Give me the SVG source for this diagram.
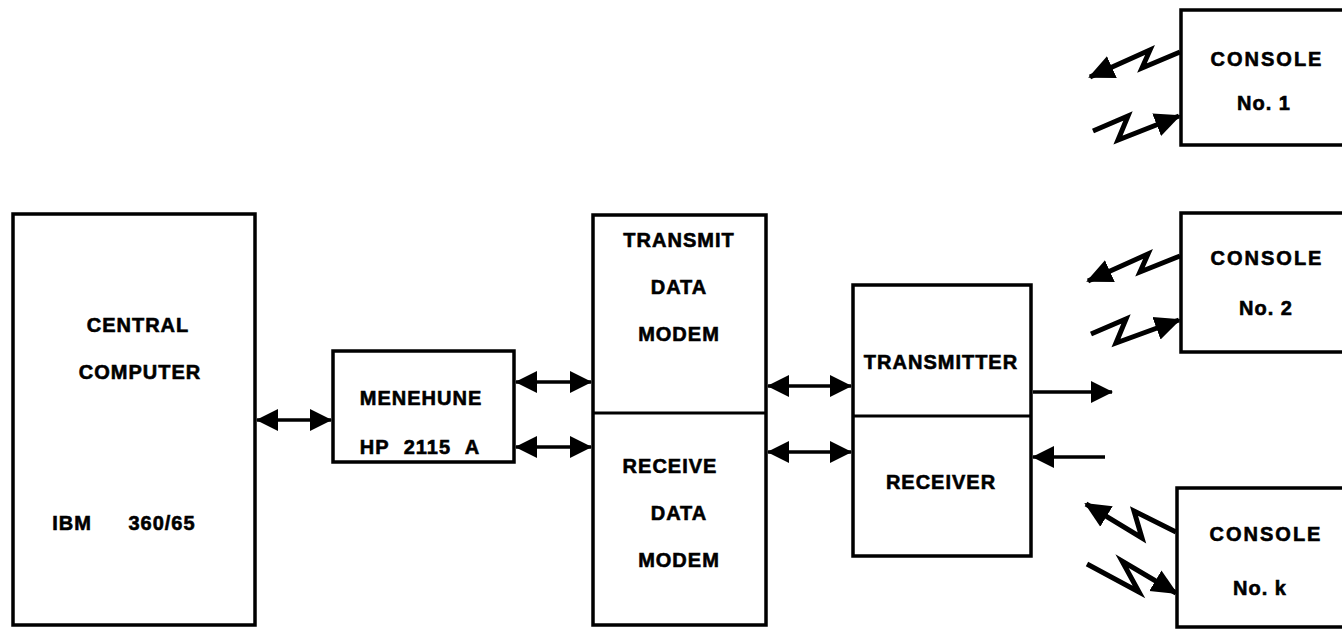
<svg xmlns="http://www.w3.org/2000/svg" width="1342" height="629" viewBox="0 0 1342 629">
  <style>
    .box { fill: #ffffff; stroke: #000000; stroke-width: 3.5; }
    .div { stroke: #000000; stroke-width: 3; }
    .lbl { font-family: "Liberation Sans", Arial, sans-serif; font-weight: bold; font-size: 20px; fill: #000000; stroke: #000000; stroke-width: 0.6; text-anchor: middle; letter-spacing: 1px; }
    .wide { letter-spacing: 2px; }
    .wire { fill: none; stroke: #000000; stroke-width: 3.5; stroke-linejoin: miter; }
    .bolt { fill: none; stroke: #000000; stroke-width: 5; stroke-linejoin: miter; stroke-miterlimit: 10; }
  </style>
  <defs>
    <marker id="head" viewBox="0 0 22 24" refX="21" refY="12" markerWidth="22" markerHeight="24" orient="auto-start-reverse" markerUnits="userSpaceOnUse">
      <path d="M0,1 L22,12 L0,23 Z" fill="#000000"/>
    </marker>
    <marker id="bolthead" viewBox="0 0 26 26" refX="24" refY="13" markerWidth="26" markerHeight="26" orient="auto" markerUnits="userSpaceOnUse">
      <path d="M0,1 L26,13 L0,25 Z" fill="#000000"/>
    </marker>
  </defs>
  <rect width="1342" height="629" fill="#ffffff"/>

  <g id="central-computer">
    <rect class="box" x="13" y="214" width="242" height="411"/>
    <text class="lbl" x="138" y="332">CENTRAL</text>
    <text class="lbl" x="140" y="379">COMPUTER</text>
    <text class="lbl" x="72" y="530">IBM</text>
    <text class="lbl" x="162" y="530">360/65</text>
  </g>

  <g id="menehune">
    <rect class="box" x="333" y="351" width="181" height="111"/>
    <text class="lbl" x="421" y="405">MENEHUNE</text>
    <text class="lbl" x="420" y="454" word-spacing="8">HP 2115 A</text>
  </g>

  <g id="modem">
    <rect class="box" x="593" y="215" width="173" height="410"/>
    <line class="div" x1="593" y1="413" x2="766" y2="413"/>
    <text class="lbl" x="679" y="247">TRANSMIT</text>
    <text class="lbl" x="679" y="294">DATA</text>
    <text class="lbl" x="679" y="341">MODEM</text>
    <text class="lbl" x="670" y="473">RECEIVE</text>
    <text class="lbl" x="679" y="520">DATA</text>
    <text class="lbl" x="679" y="567">MODEM</text>
  </g>

  <g id="radio">
    <rect class="box" x="853" y="285" width="178" height="271"/>
    <line class="div" x1="853" y1="416" x2="1031" y2="416"/>
    <text class="lbl" x="941" y="369">TRANSMITTER</text>
    <text class="lbl" x="941" y="489">RECEIVER</text>
  </g>

  <g id="console-1">
    <rect class="box" x="1181" y="10" width="175" height="135"/>
    <text class="lbl wide" x="1267" y="66">CONSOLE</text>
    <text class="lbl" x="1264" y="110">No. 1</text>
  </g>

  <g id="console-2">
    <rect class="box" x="1181" y="213" width="175" height="139"/>
    <text class="lbl wide" x="1267" y="265">CONSOLE</text>
    <text class="lbl" x="1266" y="315">No. 2</text>
  </g>

  <g id="console-k">
    <rect class="box" x="1177" y="488" width="175" height="139"/>
    <text class="lbl wide" x="1266" y="541">CONSOLE</text>
    <text class="lbl" x="1260" y="595">No. k</text>
  </g>

  <g id="connectors">
    <!-- wired links -->
    <line class="wire" x1="257" y1="420" x2="331" y2="420" marker-start="url(#head)" marker-end="url(#head)"/>
    <line class="wire" x1="516" y1="382" x2="591" y2="382" marker-start="url(#head)" marker-end="url(#head)"/>
    <line class="wire" x1="516" y1="447" x2="591" y2="447" marker-start="url(#head)" marker-end="url(#head)"/>
    <line class="wire" x1="768" y1="386" x2="851" y2="386" marker-start="url(#head)" marker-end="url(#head)"/>
    <line class="wire" x1="768" y1="452" x2="851" y2="452" marker-start="url(#head)" marker-end="url(#head)"/>
    <!-- radio out / in -->
    <line class="wire" x1="1033" y1="392" x2="1112" y2="392" marker-end="url(#head)"/>
    <line class="wire" x1="1105" y1="457" x2="1033" y2="457" marker-end="url(#head)"/>

    <!-- console 1 radio links -->
    <polyline class="bolt" points="1180,52 1142,68 1150,50 1090,77" marker-end="url(#bolthead)"/>
    <polyline class="bolt" points="1093,131 1128,116 1118,140 1179,116" marker-end="url(#bolthead)"/>
    <!-- console 2 radio links -->
    <polyline class="bolt" points="1180,256 1140,272 1148,254 1088,281" marker-end="url(#bolthead)"/>
    <polyline class="bolt" points="1091,334 1126,319 1116,343 1179,320" marker-end="url(#bolthead)"/>
    <!-- console k radio links -->
    <polyline class="bolt" points="1176,532 1134,511 1142,538 1086,504" marker-end="url(#bolthead)"/>
    <polyline class="bolt" points="1087,564 1139,592 1122,561 1176,593" marker-end="url(#bolthead)"/>
  </g>
</svg>
